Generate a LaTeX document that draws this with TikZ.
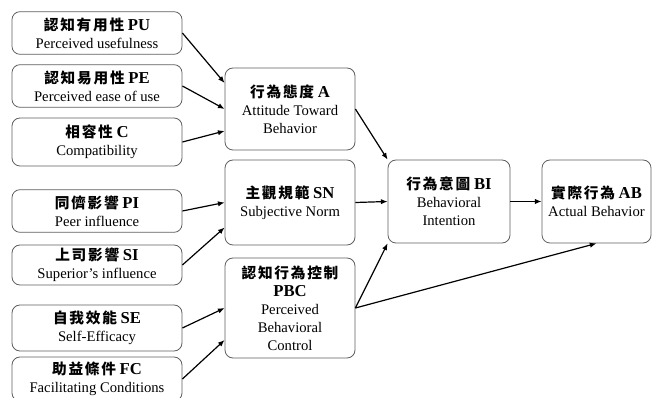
\documentclass[tikz,border=0pt]{standalone}
\usepackage{fontspec}
\setmainfont{Liberation Serif}
\newfontfamily\cjk{Noto Sans CJK TC}[LetterSpace=12]
\usetikzlibrary{arrows.meta,calc}
\definecolor{boxgray}{RGB}{95,95,95}
\newcommand{\zh}[1]{{\cjk\bfseries #1}}
\newcommand{\hd}[2]{\zh{#1}\ {\fontsize{12.5}{13.5}\selectfont\bfseries #2}}
\tikzset{
  box/.style={rectangle, rounded corners=6pt, draw=boxgray, line width=0.6pt, fill=white,
              align=center, inner sep=0pt, font=\fontsize{11}{13.5}\selectfont},
  leftbox/.style={box, minimum width=127.5pt, minimum height=32pt},
  midbox/.style={box, minimum width=97.5pt},
  arrow/.style={-{Latex[length=5pt,width=4pt]}, line width=0.9pt, black},
}

\begin{document}
\begin{tikzpicture}[x=0.75pt, y=-0.75pt]
\useasboundingbox (0,0) rectangle (652,398);

% external variables
\node[leftbox] (pu) at (97,33) {\hd{認知有用性}{PU}\\Perceived usefulness};
\node[leftbox] (pe) at (97,86) {\hd{認知易用性}{PE}\\Perceived ease of use};
\node[leftbox, minimum height=36pt] (com) at (97,142) {\hd{相容性}{C}\\Compatibility};
\node[leftbox] (pi) at (97,211) {\hd{同儕影響}{PI}\\Peer influence};
\node[leftbox, minimum height=30pt] (si) at (97,265) {\hd{上司影響}{SI}\\Superior's influence};
\node[leftbox, minimum height=34.5pt] (se) at (97,328) {\hd{自我效能}{SE}\\Self-Efficacy};
\node[leftbox, minimum height=33pt] (fc) at (97,379) {\hd{助益條件}{FC}\\Facilitating Conditions};

% TPB constructs
\node[midbox, minimum height=61.5pt] (att) at (290,109) {\hd{行為態度}{A}\\Attitude Toward\\Behavior};
\node[midbox, minimum height=63.75pt] (sn) at (290,202.5) {\hd{主觀規範}{SN}\\Subjective Norm};
\node[midbox, minimum height=75pt] (pbc) at (290,308) {\zh{認知行為控制}\\{\fontsize{12.5}{13.5}\selectfont\bfseries PBC}\\Perceived\\Behavioral\\Control};
\node[box, minimum width=91.5pt, minimum height=62.25pt] (bi) at (449,201.5) {\hd{行為意圖}{BI}\\Behavioral\\Intention};
\node[box, minimum width=81.75pt, minimum height=62.25pt] (ab) at (596.5,201.5) {\hd{實際行為}{AB}\\Actual Behavior};

% paths
\draw[arrow] (pu.east) -- ($(att.west)+(0,-26)$);
\draw[arrow] (pe.east) -- (att.west);
\draw[arrow] (com.east) -- ($(att.west)+(0,22)$);
\draw[arrow] (pi.east) -- (sn.west);
\draw[arrow] (si.east) -- ($(sn.west)+(0,25)$);
\draw[arrow] (se.east) -- (pbc.west);
\draw[arrow] (fc.east) -- ($(pbc.west)+(0,32)$);
\draw[arrow] (att.east) -- (bi.north west);
\draw[arrow] (sn.east) -- (bi.west);
\draw[arrow] (pbc.east) -- (bi.south west);
\draw[arrow] (pbc.east) -- (ab.south);
\draw[arrow] (bi.east) -- (ab.west);
\end{tikzpicture}
\end{document}
